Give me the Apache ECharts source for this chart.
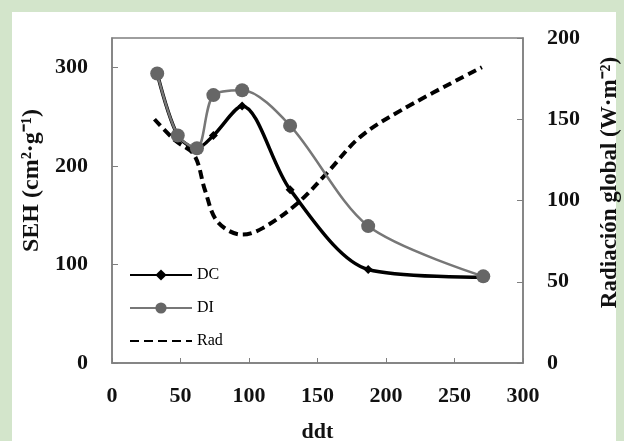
<!DOCTYPE html>
<html>
<head>
<meta charset="utf-8">
<script src="https://cdn.jsdelivr.net/npm/echarts@6/dist/echarts.min.js"></script>
<style>
  html, body { margin: 0; padding: 0; }
  #chart { width: 624px; height: 441px; }
</style>
</head>
<body>
<div id="chart"></div>
<script>
// DC / DI (SEH, left axis), Rad (right axis)
var dcX = [33, 48, 62, 74, 95, 130, 187, 271];
var dcY = [294, 231, 218, 231, 261, 176, 95, 87];
var diX = [33, 48, 62, 74, 95, 130, 187, 271];
var diY = [294, 231, 218, 272, 277, 241, 139, 88];
var radX = [31, 46, 60, 68, 77, 95, 110, 135, 157, 181, 212, 270];
var radY = [150, 137, 128, 106, 87, 79, 83, 98, 117, 139, 156, 182];

function pairs(xs, ys) {
    var out = [];
    for (var i = 0; i < xs.length; i++) {
        out.push([xs[i], ys[i]]);
    }
    return out;
}

var serif = 'Liberation Serif';
var axisGray = '#7f7f7f';

var chart = echarts.init(document.getElementById('chart'));
chart.setOption({
    backgroundColor: '#d3e5cb',
    animation: false,
    graphic: [{
        type: 'rect',
        z: -10,
        shape: {x: 12, y: 12, width: 604, height: 429},
        style: {fill: '#ffffff'}
    }],
    grid: {
        left: 112, right: 101, top: 38, bottom: 78,
        containLabel: false,
        outerBoundsMode: 'none',
        show: true,
        borderColor: axisGray,
        borderWidth: 1.5
    },
    legend: {
        orient: 'vertical',
        left: 124,
        top: 262,
        itemWidth: 62,
        itemHeight: 14,
        itemGap: 17,
        textStyle: {fontFamily: serif, fontSize: 16, color: '#000'},
        data: ['DC', 'DI', {name: 'Rad', itemStyle: {color: 'rgba(0,0,0,0)', borderWidth: 0}}]
    },
    xAxis: {
        type: 'value',
        min: 0, max: 300, interval: 50,
        name: 'ddt',
        nameLocation: 'middle',
        nameGap: 58,
        nameTextStyle: {fontFamily: serif, fontSize: 22, fontWeight: 'bold', color: '#111'},
        axisLine: {show: true, lineStyle: {color: axisGray, width: 1.5}},
        axisTick: {show: true, inside: true, length: 5, lineStyle: {color: axisGray}},
        axisLabel: {fontFamily: serif, fontSize: 22, fontWeight: 'bold', color: '#111', margin: 22},
        splitLine: {show: false}
    },
    yAxis: [{
        type: 'value',
        min: 0, max: 330, interval: 100,
        name: 'SEH (cm²·g⁻¹)',
        nameLocation: 'middle',
        nameGap: 68,
        nameRotate: 90,
        nameTextStyle: {
            fontFamily: serif, fontSize: 24, fontWeight: 'bold', color: '#111',
            padding: [0, 0, 0, 40]
        },
        axisLine: {show: true, lineStyle: {color: axisGray, width: 1.5}},
        axisTick: {show: true, inside: true, length: 6, lineStyle: {color: axisGray}},
        axisLabel: {
            fontFamily: serif, fontSize: 22, fontWeight: 'bold', color: '#111', margin: 24,
            showMaxLabel: false
        },
        splitLine: {show: false}
    }, {
        type: 'value',
        min: 0, max: 200, interval: 50,
        position: 'right',
        name: 'Radiación global (W·m⁻²)',
        nameLocation: 'middle',
        nameGap: 76,
        nameRotate: 90,
        nameTextStyle: {
            fontFamily: serif, fontSize: 23, fontWeight: 'bold', color: '#111',
            padding: [0, 0, 0, 36]
        },
        axisLine: {show: true, lineStyle: {color: axisGray, width: 1.5}},
        axisTick: {show: true, inside: true, length: 6, lineStyle: {color: axisGray}},
        axisLabel: {fontFamily: serif, fontSize: 22, fontWeight: 'bold', color: '#111', margin: 24},
        splitLine: {show: false}
    }],
    series: [{
        name: 'Rad',
        type: 'line',
        yAxisIndex: 1,
        smooth: 0.35,
        symbol: 'none',
        lineStyle: {color: '#000', width: 4, type: [9, 5]},
        itemStyle: {color: '#000'},
        data: pairs(radX, radY)
    }, {
        name: 'DC',
        type: 'line',
        yAxisIndex: 0,
        smooth: 0.3,
        symbol: 'diamond',
        symbolSize: 9,
        lineStyle: {color: '#000', width: 3.5},
        itemStyle: {color: '#000'},
        data: pairs(dcX, dcY)
    }, {
        name: 'DI',
        type: 'line',
        yAxisIndex: 0,
        smooth: 0.3,
        symbol: 'circle',
        symbolSize: 14,
        lineStyle: {color: '#777777', width: 2.5},
        itemStyle: {color: '#666666'},
        data: pairs(diX, diY)
    }]
});
</script>
</body>
</html>
